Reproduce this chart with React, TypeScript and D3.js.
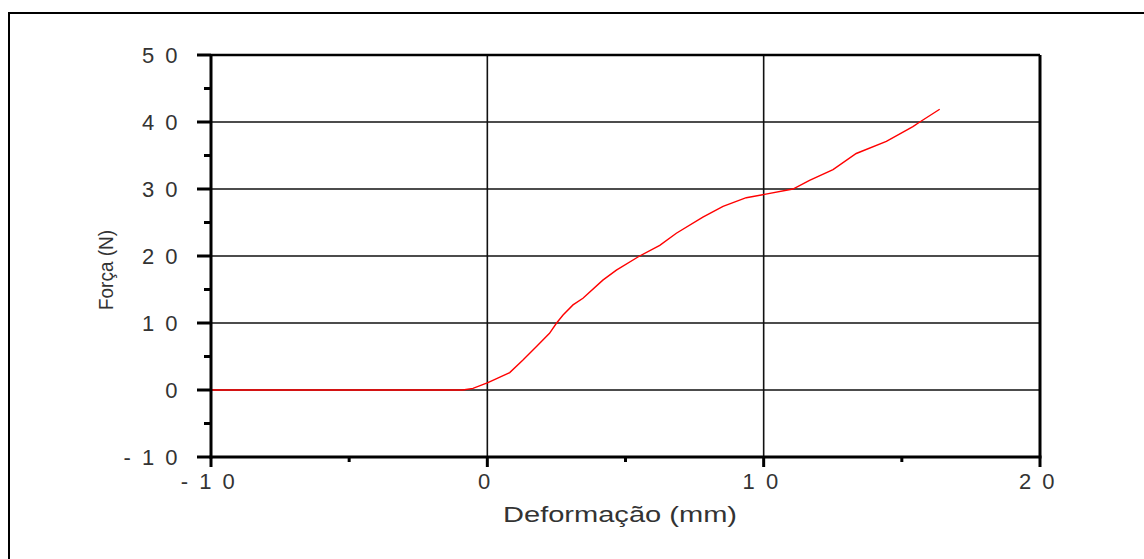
import React from "react";
import * as d3 from "d3";

const deformacao = [-10, -0.89, -0.52, 0.02, 0.81, 1.29, 1.77, 2.25, 2.5, 2.74, 3.1, 3.46, 4.18, 4.67, 5.51, 6.24, 6.84, 7.8, 8.53, 9.37, 10.03, 11.06, 11.66, 12.51, 13.35, 14.44, 15.4, 15.65, 16.37];
const forca = [0, 0, 0.25, 1.09, 2.6, 4.48, 6.46, 8.46, 9.96, 11.2, 12.7, 13.7, 16.4, 17.9, 20.0, 21.6, 23.4, 25.8, 27.4, 28.7, 29.2, 30.0, 31.3, 32.9, 35.3, 37.1, 39.3, 40.0, 41.9];
const xTicks = [-10, 0, 10, 20];
const xMinor = [-5, 5, 15];
const yTicks = [-10, 0, 10, 20, 30, 40, 50];
const yMinor = [-5, 5, 15, 25, 35, 45];
const xTitle = "Deformação (mm)";
const yTitle = "Força (N)";

const fmt = (v: number) => String(v).split("").join(" ");

export default function App() {
  const x = d3.scaleLinear().domain([-10, 20]).range([211, 1040]);
  const y = d3.scaleLinear().domain([-10, 50]).range([457, 55]);
  const pts = deformacao.map((d, i) => [d, forca[i]] as [number, number]);
  const line = d3
    .line<[number, number]>()
    .x((d) => x(d[0]))
    .y((d) => y(d[1]));
  const ink = "#111";
  const txt = "#333";
  const font = "Arial, 'Liberation Sans', sans-serif";
  return (
    <svg
      width={1144}
      height={559}
      style={{ position: "absolute", left: 0, top: 0, background: "#fff" }}
    >
      <rect x={0} y={0} width={1144} height={559} fill="#fff" />
      {/* outer frame */}
      <rect x={9} y={13} width={1300} height={700} fill="none" stroke="#000" strokeWidth={2} />
      {/* gridlines */}
      {yTicks
        .filter((t) => t > -10 && t < 50)
        .map((t) => (
          <line key={"gy" + t} x1={x(-10)} x2={x(20)} y1={y(t)} y2={y(t)} stroke={ink} strokeWidth={1.6} />
        ))}
      {xTicks
        .filter((t) => t > -10 && t < 20)
        .map((t) => (
          <line key={"gx" + t} x1={x(t)} x2={x(t)} y1={y(50)} y2={y(-10)} stroke={ink} strokeWidth={1.6} />
        ))}
      {/* curve */}
      <path d={line(pts) || ""} fill="none" stroke="#ff0000" strokeWidth={1.4} />
      {/* plot borders */}
      <line x1={x(-10)} x2={x(20)} y1={y(50)} y2={y(50)} stroke="#000" strokeWidth={2.5} />
      <line x1={x(20)} x2={x(20)} y1={y(50)} y2={y(-10)} stroke="#000" strokeWidth={3} />
      <line x1={x(-10)} x2={x(-10)} y1={y(50)} y2={y(-10) + 1.5} stroke="#000" strokeWidth={3} />
      <line x1={x(-10) - 1.5} x2={x(20) + 1.5} y1={y(-10)} y2={y(-10)} stroke="#000" strokeWidth={3} />
      {/* y ticks */}
      {yTicks.map((t) => (
        <line key={"yt" + t} x1={x(-10) - 14} x2={x(-10)} y1={y(t)} y2={y(t)} stroke="#000" strokeWidth={3} />
      ))}
      {yMinor.map((t) => (
        <line key={"ym" + t} x1={x(-10) - 7} x2={x(-10)} y1={y(t)} y2={y(t)} stroke="#000" strokeWidth={3} />
      ))}
      {/* x ticks */}
      {xTicks.map((t) => (
        <line key={"xt" + t} x1={x(t)} x2={x(t)} y1={y(-10)} y2={y(-10) + 10} stroke="#000" strokeWidth={3} />
      ))}
      {xMinor.map((t) => (
        <line key={"xm" + t} x1={x(t)} x2={x(t)} y1={y(-10)} y2={y(-10) + 5} stroke="#000" strokeWidth={3} />
      ))}
      {/* y tick labels */}
      {yTicks.map((t) => (
        <text
          key={"yl" + t}
          x={180}
          y={y(t)}
          dy="0.36em"
          textAnchor="end"
          fontFamily={font}
          fontSize={22}
          fill={txt}
          letterSpacing={2.5}
        >
          {fmt(t)}
        </text>
      ))}
      {/* x tick labels */}
      {xTicks.map((t) => (
        <text
          key={"xl" + t}
          x={x(t) - 2}
          y={481}
          dy="0.36em"
          textAnchor="middle"
          fontFamily={font}
          fontSize={22}
          fill={txt}
          letterSpacing={2.5}
        >
          {fmt(t)}
        </text>
      ))}
      <text
        x={620}
        y={514}
        dy="0.36em"
        textAnchor="middle"
        fontFamily={font}
        fontSize={22}
        fill={txt}
        textLength={234}
        lengthAdjust="spacingAndGlyphs"
      >
        {xTitle}
      </text>
      <text
        transform={`translate(105,${270}) rotate(-90)`}
        dy="0.36em"
        textAnchor="middle"
        fontFamily={font}
        fontSize={21}
        fill={txt}
        textLength={80}
        lengthAdjust="spacingAndGlyphs"
      >
        {yTitle}
      </text>
    </svg>
  );
}
